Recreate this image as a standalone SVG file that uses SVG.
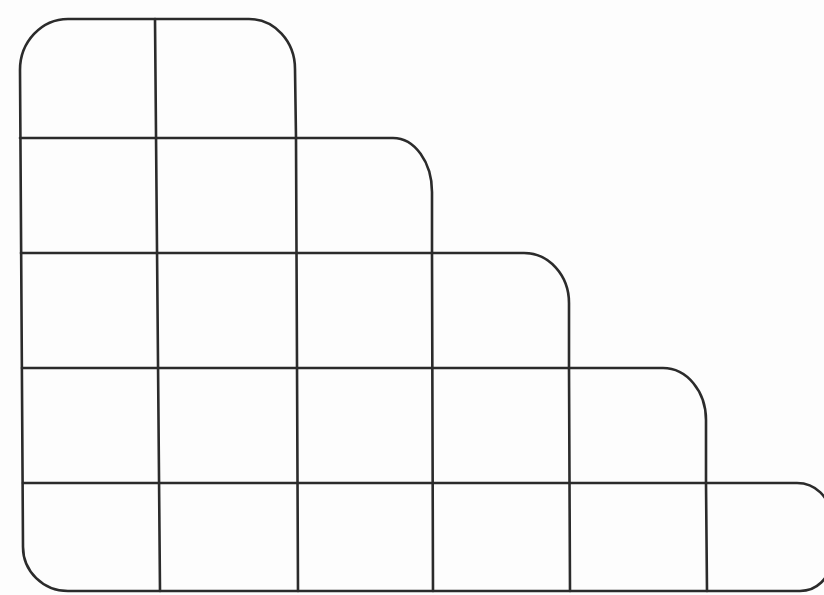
<svg xmlns="http://www.w3.org/2000/svg" width="824" height="595" viewBox="0 0 824 595">
<style>
.ln{fill:none;stroke:#2b2b2b;stroke-width:2.6;stroke-linecap:round;stroke-linejoin:round}
</style>
<rect width="824" height="595" fill="#fdfdfd"/>
<g id="outline">
<path class="ln" d="M 20,70 A 48 51 0 0 1 68,19 L 249,19 A 46 50 0 0 1 295,69 L 296,138 L 393,138 A 39 54 0 0 1 432,192 L 432,253 L 524,253 A 45 50 0 0 1 569,303 L 569,368 L 663,368 A 43 52 0 0 1 706,420 L 706,483 L 797,483 A 33 32 0 0 1 830,515 L 830,562 A 30 29 0 0 1 800,591 L 68,591 A 45 44 0 0 1 23,547 Z"/>
</g>
<g id="grid">
<line class="ln" x1="20" y1="138" x2="296" y2="138"/>
<line class="ln" x1="21" y1="253" x2="432" y2="253"/>
<line class="ln" x1="22" y1="368" x2="569" y2="368"/>
<line class="ln" x1="23" y1="483" x2="706" y2="483"/>
<line class="ln" x1="155" y1="19" x2="160" y2="591"/>
<line class="ln" x1="296" y1="138" x2="298" y2="591"/>
<line class="ln" x1="432" y1="253" x2="433" y2="591"/>
<line class="ln" x1="569" y1="368" x2="570" y2="591"/>
<line class="ln" x1="706" y1="483" x2="707" y2="591"/>
</g>
</svg>
